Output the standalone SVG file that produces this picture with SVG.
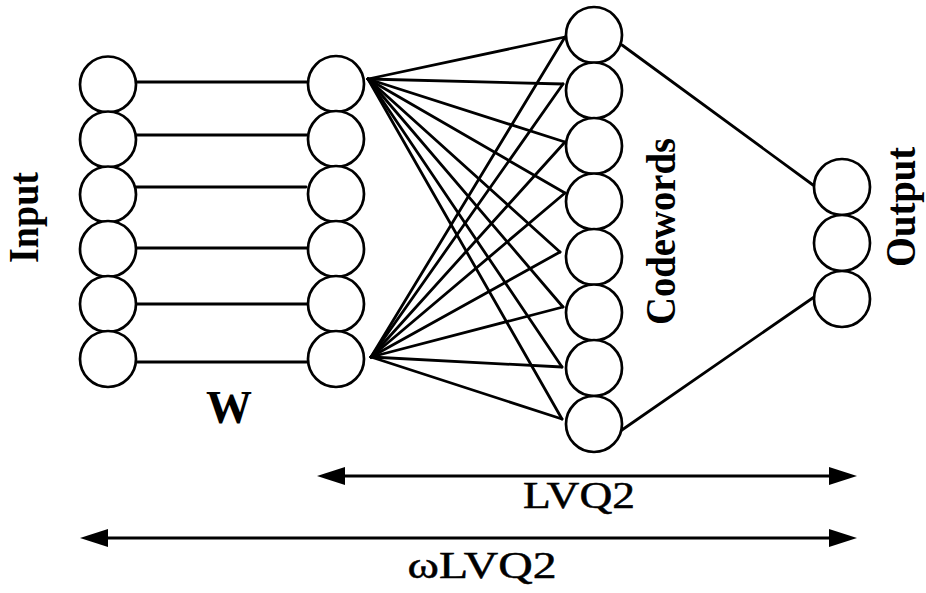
<svg xmlns="http://www.w3.org/2000/svg" width="926" height="593" viewBox="0 0 926 593">
<style>
.n{fill:#fff;stroke:#000;stroke-width:2.7}
.c{stroke:#000;stroke-width:2.8;fill:none;stroke-linecap:round}
.a{stroke:#000;stroke-width:3.2;fill:none}
.lb{font-family:"Liberation Serif","Times New Roman",serif;font-weight:bold;fill:#000}
.lr{font-family:"Liberation Serif","Times New Roman",serif;fill:#000;stroke:#000;stroke-width:0.5}
</style>
<defs>
<marker id="ah" viewBox="0 0 28 18" refX="18" refY="9" markerWidth="28" markerHeight="18" markerUnits="userSpaceOnUse" orient="auto-start-reverse">
<path d="M0,0 L28,9 L0,18 z" fill="#000"/>
</marker>
</defs>
<rect width="926" height="593" fill="#fff"/>
<g id="connectors">
<line class="c" x1="137" y1="82" x2="307" y2="82"/>
<line class="c" x1="137" y1="135" x2="307" y2="135"/>
<line class="c" x1="136" y1="187" x2="306" y2="187"/>
<line class="c" x1="136" y1="248" x2="307" y2="248"/>
<line class="c" x1="136" y1="304" x2="307" y2="304"/>
<line class="c" x1="137" y1="362" x2="307" y2="362"/>
<g id="fan-top">
<line class="c" x1="368" y1="79" x2="565" y2="37"/>
<line class="c" x1="368" y1="79" x2="563" y2="84"/>
<line class="c" x1="368" y1="79" x2="565" y2="142"/>
<line class="c" x1="368" y1="79" x2="565" y2="193"/>
<line class="c" x1="368" y1="79" x2="560" y2="252"/>
<line class="c" x1="368" y1="79" x2="563" y2="307"/>
<line class="c" x1="368" y1="79" x2="562" y2="367"/>
<line class="c" x1="368" y1="79" x2="562" y2="419"/>
</g>
<g id="fan-bottom">
<line class="c" x1="371" y1="357" x2="565" y2="37"/>
<line class="c" x1="371" y1="357" x2="563" y2="84"/>
<line class="c" x1="371" y1="357" x2="565" y2="142"/>
<line class="c" x1="371" y1="357" x2="565" y2="193"/>
<line class="c" x1="371" y1="357" x2="560" y2="252"/>
<line class="c" x1="371" y1="357" x2="563" y2="307"/>
<line class="c" x1="371" y1="357" x2="562" y2="367"/>
<line class="c" x1="371" y1="357" x2="562" y2="419"/>
</g>
<line class="c" x1="622" y1="45" x2="813" y2="185"/>
<line class="c" x1="619" y1="432" x2="817" y2="295"/>
<line class="a" x1="327" y1="476" x2="847" y2="476" marker-start="url(#ah)" marker-end="url(#ah)"/>
<line class="a" x1="90" y1="538" x2="847" y2="538" marker-start="url(#ah)" marker-end="url(#ah)"/>
</g>
<g id="input-layer">
<circle class="n" cx="108" cy="84.5" r="28"/>
<circle class="n" cx="108" cy="139.5" r="28"/>
<circle class="n" cx="108" cy="194.5" r="28"/>
<circle class="n" cx="108" cy="249" r="28"/>
<circle class="n" cx="108" cy="304" r="28"/>
<circle class="n" cx="108" cy="359" r="28"/>
</g>
<g id="w-layer">
<circle class="n" cx="336" cy="84" r="28"/>
<circle class="n" cx="336" cy="139" r="28"/>
<circle class="n" cx="336" cy="194" r="28"/>
<circle class="n" cx="336" cy="249" r="28"/>
<circle class="n" cx="336" cy="304" r="28"/>
<circle class="n" cx="336" cy="359" r="28"/>
</g>
<g id="codewords-layer">
<circle class="n" cx="594" cy="35" r="28"/>
<circle class="n" cx="594" cy="90.5" r="28"/>
<circle class="n" cx="594" cy="146" r="28"/>
<circle class="n" cx="594" cy="201.5" r="28"/>
<circle class="n" cx="594" cy="257" r="28"/>
<circle class="n" cx="594" cy="312.5" r="28"/>
<circle class="n" cx="594" cy="368" r="28"/>
<circle class="n" cx="594" cy="424" r="28"/>
</g>
<g id="output-layer">
<circle class="n" cx="842" cy="187" r="28"/>
<circle class="n" cx="842" cy="243" r="28"/>
<circle class="n" cx="842" cy="299" r="28"/>
</g>
<g id="labels">
<text class="lb" font-size="43" text-anchor="middle" textLength="91" lengthAdjust="spacingAndGlyphs" transform="translate(38,217.5) rotate(-90)">Input</text>
<text class="lb" font-size="43" text-anchor="middle" textLength="187" lengthAdjust="spacingAndGlyphs" transform="translate(675,231.5) rotate(-90)">Codewords</text>
<text class="lb" font-size="43" text-anchor="middle" textLength="120" lengthAdjust="spacingAndGlyphs" transform="translate(915,207) rotate(-90)">Output</text>
<text class="lb" font-size="46" text-anchor="middle" x="229" y="423">W</text>
<text class="lr" font-size="38" text-anchor="middle" x="579" y="508" textLength="112" lengthAdjust="spacingAndGlyphs">LVQ2</text>
<text class="lr" font-size="38" text-anchor="middle" x="482" y="578" textLength="149" lengthAdjust="spacingAndGlyphs">ωLVQ2</text>
</g>
</svg>
